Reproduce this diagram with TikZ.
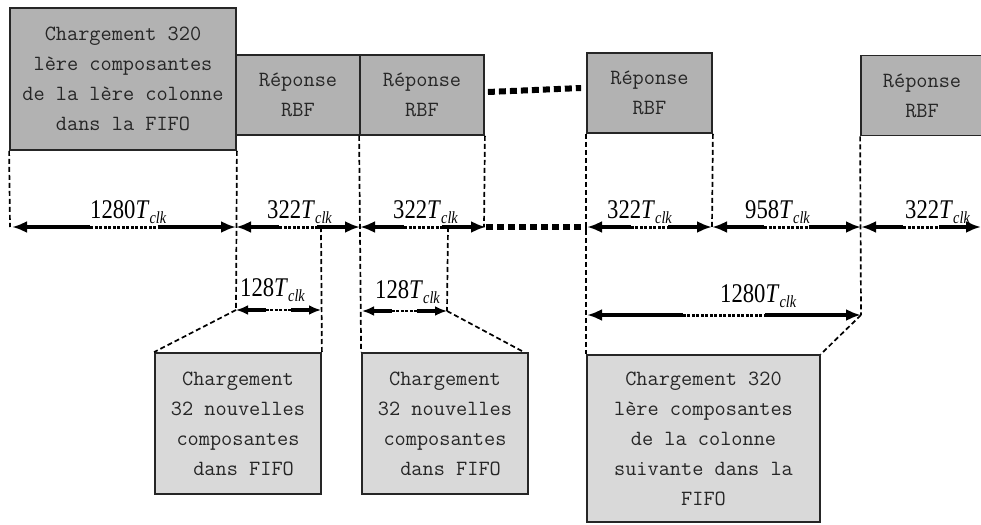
\documentclass[tikz,border=0pt]{standalone}
\usepackage{fontspec}
\usetikzlibrary{calc,arrows.meta}
\newfontfamily\lblfont[FakeStretch=0.84]{Liberation Serif}
% duration label: number followed by T_clk
\newcommand\tclk[1]{#1\textit{T}\raisebox{-5pt}{\fontsize{17}{17}\selectfont\textit{clk}}}
% double-headed duration arrow with a dotted middle part
\newcommand\durarrow[2]{%
  \draw[arrline,{Latex[length=15pt,width=12pt]}-] (#1) -- ($(#1)!0.35!(#2)$);
  \draw[arrdots] ($(#1)!0.35!(#2)$) -- ($(#1)!0.65!(#2)$);
  \draw[arrline,-{Latex[length=15pt,width=12pt]}] ($(#1)!0.65!(#2)$) -- (#2);}
\newcommand\smallarrow[2]{%
  \draw[arrline,line width=3.5pt,{Latex[length=12pt,width=10pt]}-] (#1) -- ($(#1)!0.35!(#2)$);
  \draw[arrdots,line width=2.5pt] ($(#1)!0.35!(#2)$) -- ($(#1)!0.65!(#2)$);
  \draw[arrline,line width=3.5pt,-{Latex[length=12pt,width=10pt]}] ($(#1)!0.65!(#2)$) -- (#2);}

\begin{document}
\begin{tikzpicture}[x=1pt,y=-1pt,
  box/.style={draw=black!85,line width=1.8pt,inner sep=0pt,align=center,
    font=\ttfamily\fontsize{21.7}{30}\selectfont,text=black!85},
  topbox/.style={box,fill=gray!60},
  lowbox/.style={box,fill=gray!30},
  arrline/.style={line width=4pt,black},
  arrdots/.style={line width=3pt,black,dash pattern=on 3pt off 1.5pt},
  guide/.style={line width=1.7pt,black,dash pattern=on 5pt off 3pt},
  gap/.style={line width=6pt,black,dash pattern=on 7pt off 4pt},
  lbl/.style={inner sep=0pt,anchor=base west,font=\lblfont\fontsize{27}{27}\selectfont}]
\clip (0,0) rectangle (981,524);
\useasboundingbox (0,0) rectangle (981,524);

% upper row: loading phase and RBF responses
\node[topbox,minimum width=226pt,minimum height=142pt] (b1) at (123,79)
  {Chargement 320\\lère composantes\\de la lère colonne\\dans la FIFO};
\node[topbox,minimum width=124pt,minimum height=80pt] (b2) at (298,95) {Réponse\\RBF};
\node[topbox,minimum width=124pt,minimum height=80pt] (b3) at (422,95) {Réponse\\RBF};
\node[topbox,minimum width=125pt,minimum height=80pt] (b4) at (649.5,93) {Réponse\\RBF};
\node[topbox,minimum width=122pt,minimum height=80pt] (b5) at (922,95.5) {Réponse\\RBF};

% lower row: FIFO loading phases
\node[lowbox,minimum width=166pt,minimum height=141pt] (b6) at (238,423.5)
  {Chargement\\32 nouvelles\\composantes\\~dans FIFO};
\node[lowbox,minimum width=166pt,minimum height=141pt] (b7) at (445,423.5)
  {Chargement\\32 nouvelles\\composantes\\~dans FIFO};
\node[lowbox,minimum width=233pt,minimum height=167pt] (b8) at (703.5,438.5)
  {Chargement 320\\lère composantes\\de la colonne\\suivante dans la~\\FIFO};

% time axis ticks
\coordinate (t0) at (12,227);
\coordinate (t1) at (236,227);
\coordinate (t2) at (360,227);
\coordinate (t3) at (486,227);
\coordinate (t4) at (587,227);
\coordinate (t5) at (712,227);
\coordinate (t6) at (861,227);
\coordinate (t7) at (981,227);
\coordinate (c1) at (321,227);
\coordinate (c2) at (448,227);
% secondary arrows
\coordinate (s1a) at (236,310);
\coordinate (s1b) at (321,310);
\coordinate (s2a) at (362,311);
\coordinate (s2b) at (447,311);
\coordinate (s3a) at (587,315);
\coordinate (s3b) at (861,315);

% dashed guides
\draw[guide] (b1.south west) -- (10,227);
\draw[guide] (b1.south east) -- (s1a);
\draw[guide] (c1) -- (b6.north east);
\draw[guide] (b3.south west) -- (b7.north west);
\draw[guide] (b3.south east) -- (484,227);
\draw[guide] (c2) -- (s2b);
\draw[guide] (b4.south west) -- (b8.north west);
\draw[guide] (b4.south east) -- (t5);
\draw[guide] (b5.south west) -- (s3b);
\draw[guide] (s1a) -- (b6.north west);
\draw[guide] (s2b) -- ([xshift=-5pt]b7.north east);
\draw[guide] (s3b) -- (b8.north east);

% omitted periods
\draw[gap] (b3.east) ++(3pt,3pt) -- ($(b4.west)+(-5pt,5pt)$);
\draw[gap] (t3) -- (t4);

% durations on the axis
\durarrow{t0}{t1}
\durarrow{t1}{t2}
\durarrow{t2}{t3}
\durarrow{t4}{t5}
\durarrow{t5}{t6}
\durarrow{t6}{t7}
\smallarrow{s1a}{s1b}
\smallarrow{s2a}{s2b}
\durarrow{s3a}{s3b}

% duration labels
\node[lbl] (l1) at (90,218) {\tclk{1280}};
\node[lbl] (l2) at (267,218) {\tclk{322}};
\node[lbl] (l3) at (393,218) {\tclk{322}};
\node[lbl] (l4) at (607,218) {\tclk{322}};
\node[lbl] (l5) at (745,218) {\tclk{958}};
\node[lbl] (l6) at (905,218) {\tclk{322}};
\node[lbl] (l7) at (240,296) {\tclk{128}};
\node[lbl] (l8) at (375,298) {\tclk{128}};
\node[lbl] (l9) at (720,302) {\tclk{1280}};
\end{tikzpicture}
\end{document}
